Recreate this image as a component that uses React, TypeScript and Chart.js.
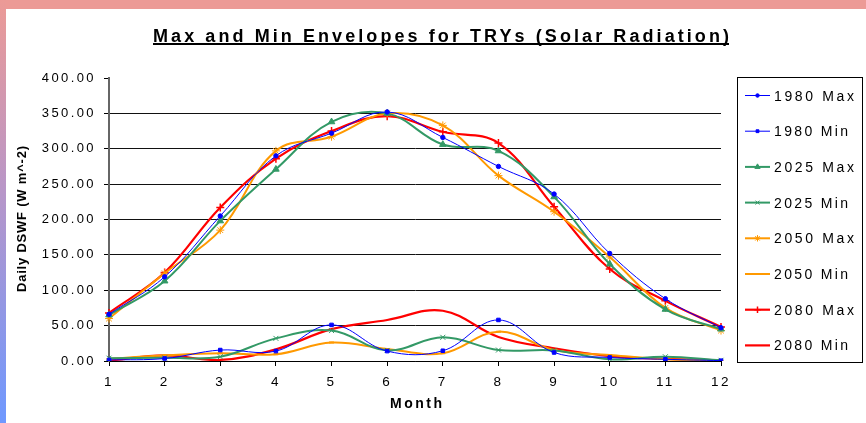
import React, { useEffect, useRef } from 'react';
import { Chart, registerables } from 'chart.js';
import * as helpers from 'chart.js/helpers';

Chart.register(...registerables);

// ---------------- data ----------------
const MONTHS = ['1', '2', '3', '4', '5', '6', '7', '8', '9', '10', '11', '12'];
const MAX_1980 = [66, 119, 205, 290, 322, 352, 316, 275, 236, 152, 88, 47];
const MIN_1980 = [1.5, 3.5, 15.5, 14, 51, 14, 14.5, 58, 12, 5, 2.4, 0.5];
const MAX_2025 = [65, 113, 198, 271, 338, 350, 306, 297, 232, 137, 73, 45];
const MIN_2025 = [4, 4.5, 6, 32, 43, 15, 33.5, 15.5, 15, 2.4, 6, 1];
const MAX_2050 = [60, 124, 185, 297, 317, 350, 333, 262, 211, 147, 75, 43];
const MIN_2050 = [3, 8, 11, 9.5, 26, 17, 11, 41.5, 15.5, 8.5, 2.4, 0.5];
const MAX_2080 = [68, 125, 217, 286, 325, 346, 324, 308, 218, 130, 85, 48];
const MIN_2080 = [0.5, 8, 1.5, 16.5, 45, 58, 71, 34, 18, 7, 3, 1];
const Y_TICKS = [0, 50, 100, 150, 200, 250, 300, 350, 400];

const TITLE = 'Max and Min Envelopes for TRYs (Solar Radiation)';
const Y_TITLE = 'Daily DSWF (W m^-2)';
const X_TITLE = 'Month';

// ---------------- styles ----------------
const FONT = '"Liberation Sans", Arial, Helvetica, sans-serif';
const BLUE = '#0000FF';
const GREEN = '#339966';
const ORANGE = '#FF9900';
const RED = '#FF0000';

const SERIES = [
  { label: '1980 Max', data: MAX_1980, color: BLUE, width: 1, style: 'circle', r: 2.2, pw: 1 },
  { label: '1980 Min', data: MIN_1980, color: BLUE, width: 1, style: 'rect', r: 2.5, pw: 1 },
  { label: '2025 Max', data: MAX_2025, color: GREEN, width: 2, style: 'triangle', r: 3.8, pw: 1 },
  { label: '2025 Min', data: MIN_2025, color: GREEN, width: 2, style: 'crossRot', r: 3.5, pw: 1 },
  { label: '2050 Max', data: MAX_2050, color: ORANGE, width: 2, style: 'star', r: 4, pw: 1 },
  { label: '2050 Min', data: MIN_2050, color: ORANGE, width: 2, style: 'line', r: 2.5, pw: 2 },
  { label: '2080 Max', data: MAX_2080, color: RED, width: 2.2, style: 'cross', r: 4, pw: 1.5 },
  { label: '2080 Min', data: MIN_2080, color: RED, width: 2.2, style: false, r: 0, pw: 0 },
];

const W = 866;
const H = 423;
const AREA = { left: 109, right: 721, top: 78, bottom: 361 };

function spaced(
  ctx: CanvasRenderingContext2D,
  text: string,
  x: number,
  y: number,
  target: number,
  font: string,
  align: 'left' | 'center'
) {
  ctx.save();
  ctx.font = font;
  (ctx as any).letterSpacing = '0px';
  const w0 = ctx.measureText(text).width;
  const ls = text.length > 1 ? (target - w0) / (text.length - 1) : 0;
  (ctx as any).letterSpacing = ls + 'px';
  ctx.textAlign = 'left';
  ctx.textBaseline = 'alphabetic';
  const startX = align === 'center' ? x - target / 2 : x;
  ctx.fillText(text, startX, y);
  ctx.restore();
}

const decorPlugin = {
  id: 'decor',
  beforeDraw(chart: any) {
    (chart.ctx as any).letterSpacing = '2.4px';
  },
  beforeDatasetsDraw(chart: any) {
    (chart.ctx as any).letterSpacing = '0px';
  },
  afterDraw(chart: any) {
    const ctx: CanvasRenderingContext2D = chart.ctx;
    ctx.save();
    (ctx as any).letterSpacing = '0px';
    ctx.fillStyle = '#000';

    // title + underline
    spaced(ctx, TITLE, 153, 42, 576, `bold 18px ${FONT}`, 'left');
    ctx.fillRect(153, 43, 576, 2);

    // y title
    ctx.save();
    ctx.translate(26, 219);
    ctx.rotate(-Math.PI / 2);
    spaced(ctx, Y_TITLE, 0, 0, 146, `bold 13px ${FONT}`, 'center');
    ctx.restore();

    // x title
    spaced(ctx, X_TITLE, 416, 408, 52, `bold 14px ${FONT}`, 'center');

    // legend
    ctx.strokeStyle = '#000';
    ctx.lineWidth = 1;
    ctx.strokeRect(737.5, 77.5, 125, 285);
    SERIES.forEach((s, i) => {
      const y = 95.5 + i * 35.7;
      ctx.save();
      ctx.strokeStyle = s.color;
      ctx.fillStyle = s.color;
      ctx.lineWidth = s.width;
      ctx.beginPath();
      ctx.moveTo(745, y);
      ctx.lineTo(770, y);
      ctx.stroke();
      if (s.style) {
        ctx.lineWidth = s.pw;
        helpers.drawPoint(
          ctx,
          { pointStyle: s.style as any, radius: s.r * 0.8, rotation: 0, borderWidth: s.pw },
          757.5,
          y
        );
      }
      ctx.restore();
      spaced(ctx, s.label, 774, y + 5, s.label.endsWith('Max') ? 80 : 74, `14px ${FONT}`, 'left');
    });
    ctx.restore();
  },
};

export default function App() {
  const ref = useRef<HTMLCanvasElement | null>(null);

  useEffect(() => {
    document.body.style.margin = '0';
    const canvas = ref.current!;
    const chart = new Chart(canvas, {
      type: 'line',
      data: {
        labels: MONTHS,
        datasets: SERIES.map((s) => ({
          label: s.label,
          data: s.data,
          borderColor: s.color,
          backgroundColor: s.color,
          borderWidth: s.width,
          pointStyle: s.style as any,
          pointRadius: s.r,
          pointHoverRadius: s.r,
          pointBorderWidth: s.pw,
          pointBorderColor: s.color,
          pointBackgroundColor: s.color,
          tension: 0.38,
          fill: false,
        })),
      },
      options: {
        responsive: false,
        maintainAspectRatio: false,
        devicePixelRatio: 1,
        animation: false,
        events: [],
        layout: {
          padding: { left: 0, top: AREA.top, right: W - AREA.right, bottom: 0 },
        },
        plugins: {
          legend: { display: false },
          title: { display: false },
          tooltip: { enabled: false },
        },
        scales: {
          x: {
            type: 'category',
            offset: false,
            afterFit: (scale: any) => {
              scale.height = H - AREA.bottom;
            },
            grid: {
              display: true,
              drawOnChartArea: false,
              drawTicks: true,
              tickLength: 5,
              color: '#000',
              tickColor: '#000',
              offset: false,
            },
            border: { display: true, color: '#000', width: 1 },
            ticks: {
              autoSkip: false,
              maxRotation: 0,
              minRotation: 0,
              padding: 8,
              color: '#000',
              font: { family: FONT, size: 13.5 },
            },
          },
          y: {
            min: 0,
            max: 400,
            afterFit: (scale: any) => {
              scale.width = AREA.left;
            },
            afterBuildTicks: (scale: any) => {
              scale.ticks = Y_TICKS.map((v) => ({ value: v }));
            },
            grid: {
              display: true,
              drawOnChartArea: true,
              drawTicks: true,
              tickLength: 5,
              color: (c: any) => (c.tick && c.tick.value === 400 ? 'rgba(0,0,0,0)' : '#111'),
              tickColor: '#000',
              lineWidth: 1,
            },
            border: { display: true, color: '#666', width: 2 },
            ticks: {
              padding: 8,
              color: '#000',
              font: { family: FONT, size: 13 },
              callback: (v: any) => Number(v).toFixed(2),
            },
          },
        },
      },
      plugins: [decorPlugin],
    } as any);
    return () => chart.destroy();
  }, []);

  return (
    <div style={{ position: 'relative', width: W, height: H, background: '#fff', overflow: 'hidden' }}>
      <canvas ref={ref} width={W} height={H} style={{ display: 'block', width: W, height: H }} />
      <div
        style={{
          position: 'absolute',
          left: 0,
          top: 0,
          width: W,
          height: 9,
          background: '#EC9A96',
        }}
      />
      <div
        style={{
          position: 'absolute',
          left: 0,
          top: 0,
          width: 6,
          height: H,
          background: 'linear-gradient(to bottom, #EC9A96, #B896C8 45%, #6E98FF)',
        }}
      />
    </div>
  );
}
